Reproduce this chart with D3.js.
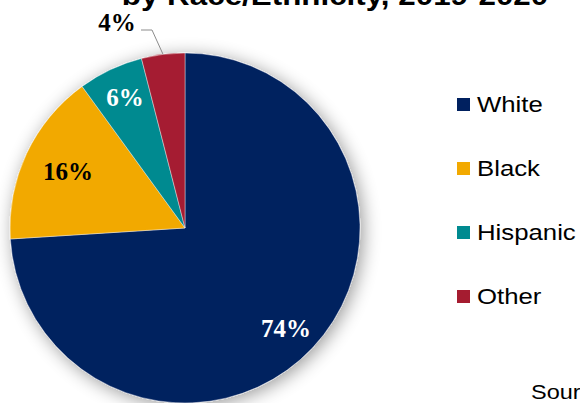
<!DOCTYPE html>
<html>
<head>
<meta charset="utf-8">
<script src="https://cdn.jsdelivr.net/npm/d3@7/dist/d3.min.js"></script>
<style>
  html, body { margin: 0; padding: 0; background: #fff; }
  svg { display: block; }
</style>
</head>
<body>
<svg id="chart" width="580" height="403"></svg>
<script>
// Share of students by race/ethnicity (percent)
const categories = ["White", "Black", "Hispanic", "Other"];
const shares = [74, 16, 6, 4];
const colors = ["#00205F", "#F2A900", "#008A90", "#A51C30"];
const labelColors = ["#ffffff", "#000000", "#ffffff", "#000000"];
const titleText = "by Race/Ethnicity, 2019-2020";
const sourceText = "Source: U.S. Department of Education";

const svg = d3.select("#chart");
const cx = 185, cy = 228, R = 175;
const sansFont = "Liberation Sans, Arial, sans-serif";
const stretch = 1.12; // wide sans lettering

// soft drop shadow behind the pie
const defs = svg.append("defs");
const f = defs.append("filter").attr("id", "shadow")
  .attr("x", "-30%").attr("y", "-30%").attr("width", "160%").attr("height", "160%");
f.append("feGaussianBlur").attr("in", "SourceAlpha").attr("stdDeviation", 9).attr("result", "b");
f.append("feOffset").attr("in", "b").attr("dx", 3).attr("dy", 3).attr("result", "o");
f.append("feComponentTransfer").attr("in", "o").attr("result", "s")
  .append("feFuncA").attr("type", "linear").attr("slope", 0.4);
const fm = f.append("feMerge");
fm.append("feMergeNode").attr("in", "s");
fm.append("feMergeNode").attr("in", "SourceGraphic");

// title (runs above the top edge)
svg.append("text")
  .attr("transform", `translate(335,5) scale(${stretch},1)`)
  .attr("text-anchor", "middle")
  .attr("font-family", sansFont)
  .attr("font-weight", "bold")
  .attr("font-size", 28)
  .attr("fill", "#000")
  .text(titleText);

const data = categories.map((c, i) => ({ cat: c, value: shares[i], i }));
const pie = d3.pie().value(d => d.value).sort(null);
const arcs = pie(data);
const arc = d3.arc().innerRadius(0).outerRadius(R);

const g = svg.append("g").attr("transform", `translate(${cx},${cy})`);
const slices = g.append("g").attr("filter", "url(#shadow)");
slices.selectAll("path")
  .data(arcs)
  .join("path")
  .attr("d", arc)
  .attr("fill", d => colors[d.data.i])
  .attr("stroke", "#ffffff")
  .attr("stroke-width", 0.4);

// value labels: inside slices except the smallest, which sits outside with a leader
const labelPos = [
  [101, 100],   // White
  [-117, -57],  // Black
  [-60, -131],  // Hispanic
  [-68, -206]   // Other (outside)
];
arcs.forEach((a, k) => {
  const [lx, ly] = labelPos[k];
  g.append("text")
    .attr("x", lx).attr("y", ly)
    .attr("text-anchor", "middle")
    .attr("dominant-baseline", "central")
    .attr("font-family", "Liberation Serif, Times New Roman, serif")
    .attr("font-weight", "bold")
    .attr("font-size", 25)
    .attr("fill", labelColors[k])
    .text(d3.format(".0f")(a.data.value) + "%");
});

// leader line for the smallest slice
const other = arcs[3];
const mid = (other.startAngle + other.endAngle) / 2;
const edge = [Math.sin(mid) * R, -Math.cos(mid) * R];
g.append("polyline")
  .attr("points", [[-44, -198], [-33, -198], edge].map(p => p.join(",")).join(" "))
  .attr("fill", "none")
  .attr("stroke", "#8c8c8c")
  .attr("stroke-width", 1);

// legend
const legend = svg.append("g").attr("transform", "translate(457,98)");
categories.forEach((c, i) => {
  const row = legend.append("g").attr("transform", `translate(0,${i * 64})`);
  row.append("rect").attr("width", 13).attr("height", 13).attr("fill", colors[i]);
  row.append("text")
    .attr("transform", `translate(20,14) scale(${stretch},1)`)
    .attr("font-family", sansFont)
    .attr("font-size", 23)
    .attr("fill", "#000")
    .text(c);
});

// source note (runs off the right edge)
svg.append("text")
  .attr("transform", `translate(531,399) scale(${stretch},1)`)
  .attr("font-family", sansFont)
  .attr("font-size", 21)
  .attr("fill", "#000")
  .text(sourceText);
</script>
</body>
</html>
